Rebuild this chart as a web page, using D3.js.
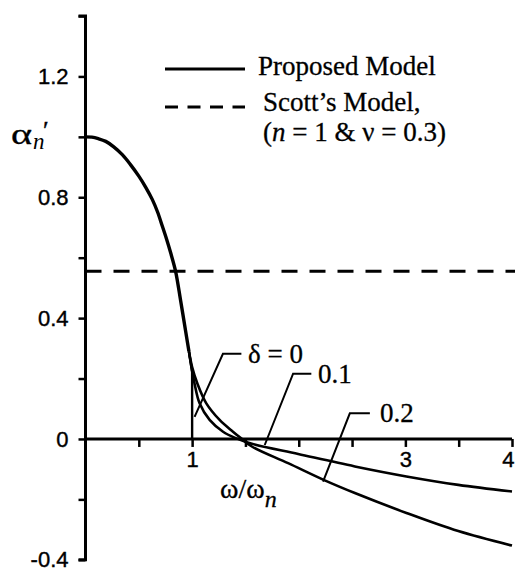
<!DOCTYPE html>
<html><head><meta charset="utf-8">
<script src="https://cdn.jsdelivr.net/npm/d3@7"></script>
<style>body{margin:0;background:#fff}svg{display:block}</style>
</head><body>
<svg id="c" width="515" height="571"></svg>
<script>
// ---- data ----
const xDomain = [0, 4];
const yDomain = [-0.4, 1.4];
const xTicks = [0.5, 1, 1.5, 2, 2.5, 3, 3.5, 4];
const xTickLabels = ["", "1", "", "", "", "3", "", "4"];
const yTicks = [-0.4, -0.2, 0, 0.2, 0.4, 0.6, 0.8, 1.0, 1.2, 1.4];
const yTickLabels = ["-0.4", "", "0", "", "0.4", "", "0.8", "", "1.2", ""];

// common part of the proposed model (all δ)
const commonX = [0, 0.06, 0.12, 0.19, 0.265, 0.345, 0.42, 0.5, 0.565, 0.626, 0.675, 0.72, 0.76, 0.798, 0.845, 0.892, 0.94, 0.97];
const commonY = [1.0, 0.999, 0.994, 0.985, 0.967, 0.941, 0.909, 0.87, 0.833, 0.793, 0.752, 0.705, 0.662, 0.617, 0.555, 0.458, 0.355, 0.29];

// δ = 0 branch (drops vertically at ω/ωn = 1)
const delta0X = [0.97, 1.0, 1.0];
const delta0Y = [0.29, 0.222, 0.0];

// δ = 0.1 branch
const delta1X = [0.97, 0.995, 1.023, 1.07, 1.164, 1.29, 1.415, 1.56, 1.995, 2.526, 3.01, 3.496, 4.0];
const delta1Y = [0.29, 0.235, 0.183, 0.118, 0.063, 0.024, 0.002, -0.016, -0.05, -0.091, -0.124, -0.152, -0.174];

// δ = 0.2 branch
const delta2X = [0.97, 1.0, 1.05, 1.133, 1.258, 1.383, 1.46, 1.56, 1.9, 2.244, 2.526, 3.01, 3.496, 4.0];
const delta2Y = [0.29, 0.238, 0.183, 0.118, 0.063, 0.024, 0.002, -0.025, -0.08, -0.137, -0.179, -0.245, -0.305, -0.353];

// Scott's model (constant)
const scottValue = 0.555;

// leader lines for δ labels
const leaderLabels = ["δ = 0", "0.1", "0.2"];
const leaderX = [[1.023, 1.289, 1.462], [1.681, 1.947, 2.118], [2.228, 2.479, 2.667]];
const leaderY = [[0.073, 0.282, 0.282], [-0.02, 0.216, 0.216], [-0.141, 0.085, 0.085]];
const leaderTextX = [1.524, 2.181, 2.763];

const legendLabels = ["Proposed Model", "Scott’s Model,"];

// ---- drawing ----
const svg = d3.select("#c");
const x = d3.scaleLinear().domain(xDomain).range([85.5, 512]);
const y = d3.scaleLinear().domain(yDomain).range([559.8, 16]);
const serif = "'Liberation Serif','Times New Roman',serif";
const sans = "'Liberation Sans',Arial,sans-serif";

const zip = (xs, ys) => xs.map((v, i) => [v, ys[i]]);
const smooth = d3.line().x(d => x(d[0])).y(d => y(d[1])).curve(d3.curveCatmullRom.alpha(0.5));
const straight = d3.line().x(d => x(d[0])).y(d => y(d[1]));

// Scott's dashed line
svg.append("path")
  .attr("d", straight([[xDomain[0], scottValue], [xDomain[1] + 0.03, scottValue]]))
  .attr("stroke", "#000").attr("stroke-width", 3).attr("fill", "none")
  .attr("stroke-dasharray", "16,12");

// Y axis
const yAxis = d3.axisLeft(y).tickValues(yTicks).tickSize(7).tickPadding(10)
  .tickFormat((d, i) => yTickLabels[i]);
const gy = svg.append("g").attr("transform", `translate(${x(0)},0)`).call(yAxis);
gy.select(".domain").attr("d", `M-7,${y(1.4)}H0V${y(-0.4)}H-7`).attr("stroke-width", 3);
gy.selectAll(".tick line").attr("stroke-width", 2.5);
gy.selectAll(".tick text").attr("font-family", sans).attr("font-size", 22).attr("fill", "#000")
  .attr("stroke", "#000").attr("stroke-width", 0.4);

// X axis at y=0
const xAxis = d3.axisBottom(x).tickValues(xTicks).tickSize(8).tickPadding(4)
  .tickFormat((d, i) => xTickLabels[i]);
const gx = svg.append("g").attr("transform", `translate(0,${y(0)})`).call(xAxis);
gx.select(".domain").attr("d", `M${x(0)},0H${x(4)}`).attr("stroke-width", 3);
gx.selectAll(".tick line").attr("stroke-width", 2.5);
gx.selectAll(".tick text").attr("font-family", sans).attr("font-size", 22).attr("fill", "#000")
  .attr("stroke", "#000").attr("stroke-width", 0.4);
gx.selectAll(".tick text").filter((d) => d === 4).attr("text-anchor", "end").attr("dx", 2);

// curves
svg.append("path").attr("d", smooth(zip(commonX, commonY)))
  .attr("stroke", "#000").attr("stroke-width", 3.4).attr("fill", "none");
svg.append("path").attr("d", straight(zip(delta0X, delta0Y)))
  .attr("stroke", "#000").attr("stroke-width", 2.4).attr("fill", "none");
[zip(delta1X, delta1Y), zip(delta2X, delta2Y)].forEach(pts => {
  svg.append("path").attr("d", smooth(pts))
    .attr("stroke", "#000").attr("stroke-width", 2.6).attr("fill", "none");
});

// leaders
leaderLabels.forEach((lab, i) => {
  svg.append("path").attr("d", straight(zip(leaderX[i], leaderY[i])))
    .attr("stroke", "#000").attr("stroke-width", 2).attr("fill", "none");
  svg.append("text").attr("x", x(leaderTextX[i])).attr("y", y(leaderY[i][2]))
    .attr("dy", "0.33em").attr("font-family", serif).attr("font-size", 27)
    .attr("stroke", "#000").attr("stroke-width", 0.3)
    .text(lab);
});

// axis titles
const xt = svg.append("text").attr("x", 220).attr("y", 498)
  .attr("font-family", serif).attr("font-size", 28).attr("stroke", "#000").attr("stroke-width", 0.3);
xt.append("tspan").text("ω/ω");
xt.append("tspan").attr("font-style", "italic").attr("dy", 9).attr("font-size", 24).text("n");

svg.append("text").attr("x", 11).attr("y", 144).attr("font-family", serif)
  .attr("font-size", 30).attr("textLength", 21).attr("lengthAdjust", "spacingAndGlyphs")
  .attr("stroke", "#000").attr("stroke-width", 0.3).text("α");
svg.append("text").attr("x", 33).attr("y", 149).attr("font-family", serif)
  .attr("font-style", "italic").attr("font-size", 23).text("n");
svg.append("text").attr("x", 43).attr("y", 139).attr("font-family", serif)
  .attr("font-size", 26).attr("stroke", "#000").attr("stroke-width", 0.4).text("′");

// legend
svg.append("line").attr("x1", 165).attr("x2", 245).attr("y1", 69).attr("y2", 69)
  .attr("stroke", "#000").attr("stroke-width", 3.2);
svg.append("line").attr("x1", 165).attr("x2", 245).attr("y1", 107).attr("y2", 107)
  .attr("stroke", "#000").attr("stroke-width", 3.2).attr("stroke-dasharray", "13,9.5");
const leg = svg.append("g").attr("font-family", serif).attr("font-size", 27)
  .attr("stroke", "#000").attr("stroke-width", 0.3);
leg.append("text").attr("x", 258).attr("y", 75).text(legendLabels[0]);
leg.append("text").attr("x", 263).attr("y", 111).text(legendLabels[1]);
const l3 = leg.append("text").attr("x", 263).attr("y", 141);
l3.append("tspan").text("(");
l3.append("tspan").attr("font-style", "italic").text("n");
l3.append("tspan").text(" = 1 & ν = 0.3)");
</script>
</body></html>
